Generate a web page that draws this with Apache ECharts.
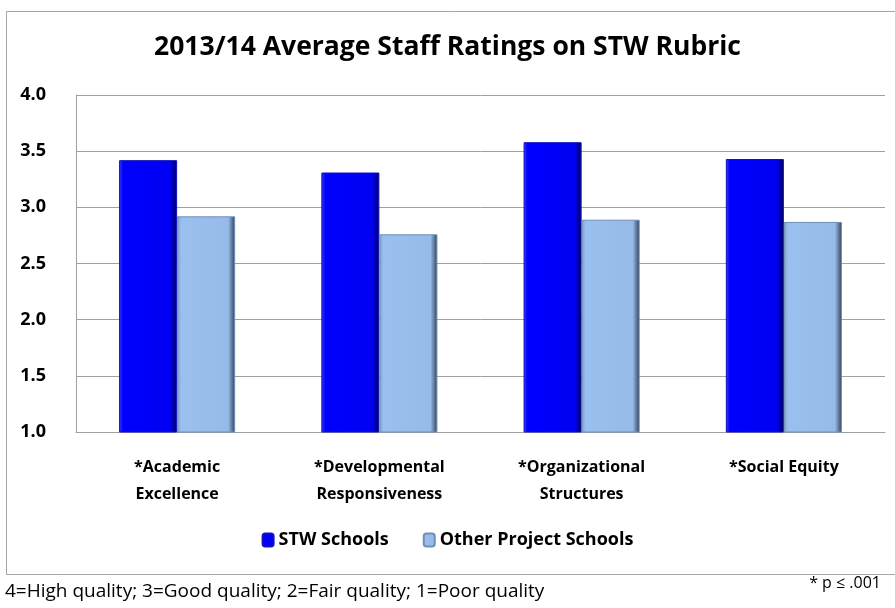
<!DOCTYPE html>
<html>
<head>
<meta charset="utf-8">
<script src="https://cdn.jsdelivr.net/npm/echarts@6/dist/echarts.min.js"></script>
<style>
  html, body { margin: 0; padding: 0; background: #fff; }
  #chart { width: 895px; height: 608px; }
</style>
</head>
<body>
<div id="chart"></div>
<script>
// data
var categories = ['*Academic\nExcellence', '*Developmental\nResponsiveness', '*Organizational\nStructures', '*Social Equity'];
var stwValues = [3.42, 3.31, 3.58, 3.43];
var otherValues = [2.92, 2.76, 2.89, 2.87];
var seriesNames = ['STW Schools', 'Other Project Schools'];

var font = '"Open Sans", sans-serif';

function bevel(edge, face, face2, dark) {
    return new echarts.graphic.LinearGradient(0, 0, 1, 0, [
        {offset: 0, color: edge},
        {offset: 0.07, color: face},
        {offset: 0.88, color: face2},
        {offset: 1, color: dark}
    ]);
}

var myChart = echarts.init(document.getElementById('chart'));

var option = {
    animation: false,
    title: {
        text: '2013/14 Average Staff Ratings on STW Rubric',
        left: 'center',
        top: 29,
        textStyle: {fontFamily: font, fontSize: 26.5, fontWeight: 'bold', color: '#000'}
    },
    legend: {
        data: seriesNames,
        bottom: 54,
        left: 'center',
        itemWidth: 11,
        itemHeight: 13,
        itemGap: 34,
        textStyle: {fontFamily: font, fontSize: 18, fontWeight: 'bold', color: '#000'}
    },
    grid: {left: 76, right: 10, top: 95, bottom: 176},
    xAxis: {
        type: 'category',
        data: categories,
        axisTick: {show: false},
        axisLine: {lineStyle: {color: '#a0a0a0'}},
        axisLabel: {
            fontFamily: font, fontSize: 16, fontWeight: 'bold', color: '#000',
            lineHeight: 27, margin: 22
        }
    },
    yAxis: {
        type: 'value',
        min: 1,
        max: 4,
        interval: 0.5,
        axisLine: {show: true, lineStyle: {color: '#a0a0a0'}},
        axisTick: {show: false},
        splitLine: {lineStyle: {color: '#a0a0a0'}},
        axisLabel: {
            fontFamily: font, fontSize: 18, fontWeight: 'bold', color: '#000',
            margin: 30,
            formatter: function (v) { return v.toFixed(1); }
        }
    },
    series: [
        {
            name: seriesNames[0],
            type: 'bar',
            data: stwValues,
            barWidth: '28.7%',
            barGap: '0%',
            itemStyle: {
                color: bevel('#3a3aff', '#0000ff', '#0000f2', '#00005a'),
                borderColor: '#1010c0',
                borderWidth: 1
            }
        },
        {
            name: seriesNames[1],
            type: 'bar',
            data: otherValues,
            barWidth: '28.7%',
            itemStyle: {
                color: bevel('#7d9fcc', '#9ac0ef', '#97bbe8', '#2f3f55'),
                borderColor: '#6f8fb8',
                borderWidth: 1
            }
        }
    ],
    graphic: [
        {
            type: 'rect',
            shape: {x: 6.5, y: 11.5, width: 895, height: 563},
            style: {fill: null, stroke: '#a6a6a6', lineWidth: 1},
            silent: true
        },
        {
            type: 'text',
            left: 5,
            top: 582,
            style: {
                text: '4=High quality; 3=Good quality; 2=Fair quality; 1=Poor quality',
                font: '19px ' + font,
                fill: '#000'
            }
        },
        {
            type: 'text',
            right: 14,
            top: 575,
            style: {
                text: '* p \u2264 .001',
                font: '16px ' + font,
                fill: '#000'
            }
        }
    ]
};

myChart.setOption(option);
window.addEventListener('resize', function () {
    myChart.resize();
});
</script>
</body>
</html>
